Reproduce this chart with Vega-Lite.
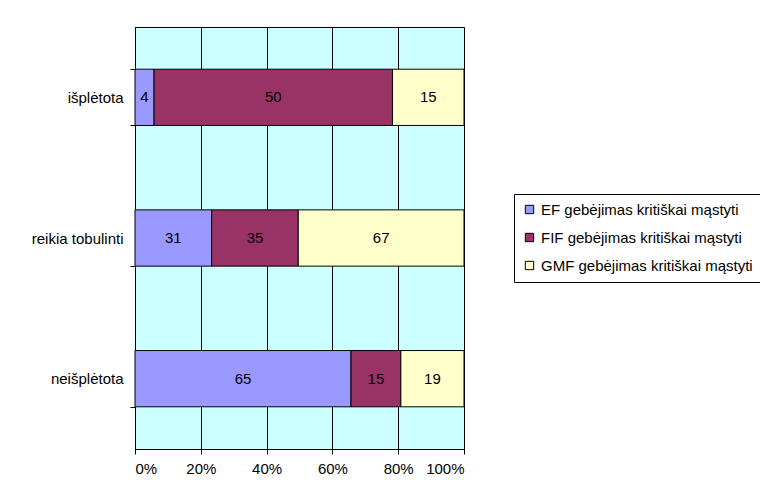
{
  "$schema": "https://vega.github.io/schema/vega-lite/v6.json",
  "width": 329,
  "height": 422,
  "autosize": "none",
  "padding": {"left": 135, "top": 27, "right": 296, "bottom": 50},
  "background": "white",
  "data": {
    "values": [
      {"cat": "išplėtota", "series": "EF gebėjimas kritiškai mąstyti", "ord": 1, "value": 4},
      {"cat": "išplėtota", "series": "FIF gebėjimas kritiškai mąstyti", "ord": 2, "value": 50},
      {"cat": "išplėtota", "series": "GMF gebėjimas kritiškai mąstyti", "ord": 3, "value": 15},
      {"cat": "reikia tobulinti", "series": "EF gebėjimas kritiškai mąstyti", "ord": 1, "value": 31},
      {"cat": "reikia tobulinti", "series": "FIF gebėjimas kritiškai mąstyti", "ord": 2, "value": 35},
      {"cat": "reikia tobulinti", "series": "GMF gebėjimas kritiškai mąstyti", "ord": 3, "value": 67},
      {"cat": "neišplėtota", "series": "EF gebėjimas kritiškai mąstyti", "ord": 1, "value": 65},
      {"cat": "neišplėtota", "series": "FIF gebėjimas kritiškai mąstyti", "ord": 2, "value": 15},
      {"cat": "neišplėtota", "series": "GMF gebėjimas kritiškai mąstyti", "ord": 3, "value": 19}
    ]
  },
  "transform": [
    {"stack": "value", "groupby": ["cat"], "sort": [{"field": "ord"}], "offset": "normalize", "as": ["x0", "x1"]},
    {"calculate": "(datum.x0 + datum.x1) / 2", "as": "xm"}
  ],
  "encoding": {
    "y": {
      "field": "cat",
      "type": "nominal",
      "sort": ["išplėtota", "reikia tobulinti", "neišplėtota"],
      "scale": {"paddingInner": 0.6, "paddingOuter": 0.3},
      "axis": {
        "title": null,
        "tickBand": "extent",
        "domainColor": "black",
        "tickColor": "black",
        "tickSize": 5,
        "labelPadding": 7,
        "labelFont": "Liberation Sans",
        "labelFontSize": 15,
        "labelColor": "black",
        "labelLimit": 200,
        "grid": false
      }
    }
  },
  "layer": [
    {
      "mark": {"type": "bar", "stroke": "black", "strokeWidth": 1},
      "encoding": {
        "x": {
          "field": "x0",
          "type": "quantitative",
          "scale": {"domain": [0, 1], "nice": false},
          "axis": {
            "title": null,
            "format": "%",
            "values": [0, 0.2, 0.4, 0.6, 0.8, 1],
            "grid": true,
            "gridColor": "black",
            "gridOpacity": 1,
            "domainColor": "black",
            "tickColor": "black",
            "tickSize": 5,
            "labelPadding": 7,
            "labelFont": "Liberation Sans",
            "labelFontSize": 15,
            "labelColor": "black"
          }
        },
        "x2": {"field": "x1"},
        "color": {
          "field": "series",
          "type": "nominal",
          "scale": {"range": ["#9999FF", "#993366", "#FFFFCC"]},
          "legend": {
            "title": null,
            "orient": "none",
            "legendX": 379,
            "legendY": 167,
            "strokeColor": "black",
            "fillColor": "white",
            "padding": 8,
            "symbolType": "square",
            "symbolSize": 70,
            "symbolStrokeColor": "black",
            "symbolStrokeWidth": 1,
            "symbolOpacity": 1,
            "labelFont": "Liberation Sans",
            "labelFontSize": 15,
            "labelColor": "black",
            "rowPadding": 12,
            "labelLimit": 400
          }
        }
      }
    },
    {
      "mark": {"type": "text", "font": "Liberation Sans", "fontSize": 15, "color": "black"},
      "encoding": {
        "x": {"field": "xm", "type": "quantitative"},
        "text": {"field": "value", "type": "quantitative"}
      }
    }
  ],
  "config": {
    "view": {"fill": "#CCFFFF", "stroke": "black", "strokeWidth": 1}
  }
}
